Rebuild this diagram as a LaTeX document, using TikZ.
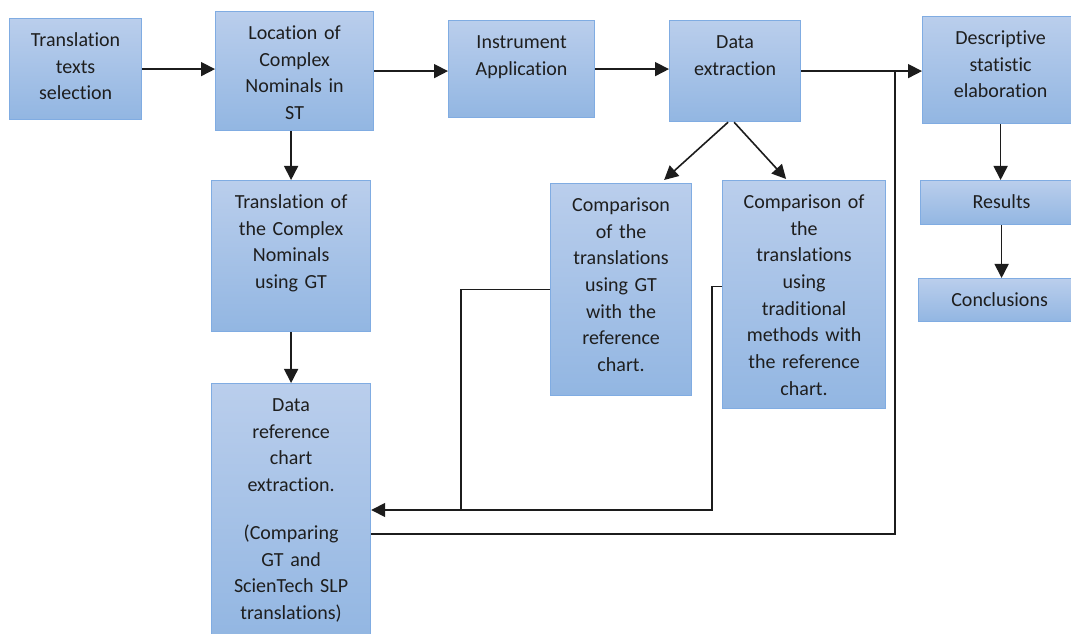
\documentclass[tikz,border=0pt]{standalone}
\usepackage{fontspec}
\setmainfont{Carlito}[Ligatures=NoCommon]
\usepackage{tikz}
\usetikzlibrary{arrows.meta}
\usetikzlibrary{calc}

\definecolor{boxtop}{RGB}{186,206,236}
\definecolor{boxbot}{RGB}{146,182,226}
\definecolor{boxline}{RGB}{128,172,226}
\definecolor{txtcol}{RGB}{30,30,30}
\definecolor{linecol}{RGB}{28,28,28}

\tikzset{
  stepbox/.style={draw=boxline, line width=0.9pt, top color=boxtop, bottom color=boxbot,
    align=center, inner sep=0pt, text=txtcol, font=\fontsize{15}{20}\selectfont,
    text height=21pt, anchor=north west},
  flow/.style={draw=linecol, line width=1.2pt},
  flowarrow/.style={flow, -{Triangle[length=10.5pt,width=10.5pt]}}
}

\begin{document}
\begin{tikzpicture}[x=0.75pt,y=0.75pt,yscale=-1,xscale=1]
\useasboundingbox (0,0) rectangle (1071,634);

%Shape: Rectangle [selection]
\node[stepbox, text width=99pt, text depth=54.75pt] (sel) at (9,18) {Translation\\texts\\selection};
%Shape: Rectangle [location]
\node[stepbox, text width=118.5pt, text depth=68.25pt] (loc) at (215,11) {Location of\\Complex\\Nominals in\\ST};
%Shape: Rectangle [instrument]
\node[stepbox, text width=109.5pt, text depth=51.75pt] (inst) at (448,20) {Instrument\\Application};
%Shape: Rectangle [data extraction]
\node[stepbox, text width=98.25pt, text depth=54.75pt] (dext) at (669,20) {Data\\extraction};
%Shape: Rectangle [descriptive]
\node[stepbox, text width=117pt, text depth=59.25pt] (desc) at (922,16) {Descriptive\\statistic\\elaboration};
%Shape: Rectangle [results]
\node[stepbox, text width=121.5pt, text depth=12pt] (res) at (920,180) {Results};
%Shape: Rectangle [conclusions]
\node[stepbox, text width=121.5pt, text depth=11.25pt] (conc) at (918,278) {Conclusions};
%Shape: Rectangle [translation GT]
\node[stepbox, text width=119.25pt, text depth=92.25pt] (trgt) at (211,180) {Translation of\\the Complex\\Nominals\\using GT};
%Shape: Rectangle [reference chart]
\node[stepbox, text width=119.25pt, text depth=171.75pt] (dref) at (211,383) {Data\\reference\\chart\\extraction.\\[16pt](Comparing\\GT and\\ScienTech SLP\\translations)};
%Shape: Rectangle [comparison GT]
\node[stepbox, text width=105.75pt, text depth=138pt] (cgt) at (550,183) {Comparison\\of the\\translations\\using GT\\with the\\reference\\chart.};
%Shape: Rectangle [comparison traditional]
\node[stepbox, text width=122.25pt, text depth=150pt] (ctr) at (722,180) {Comparison of\\the\\translations\\using\\traditional\\methods with\\the reference\\chart.};

%Straight Lines
\draw[flowarrow] (sel.east) -- (sel.east -| loc.west);
\draw[flowarrow] (loc.east) -- (loc.east -| inst.west);
\draw[flowarrow] (inst.east) -- (inst.east -| dext.west);
\draw[flowarrow] (dext.east) -- (dext.east -| desc.west);
%Straight Lines
\draw[flowarrow] (loc.south -| trgt.north) -- (trgt.north);
\draw[flowarrow] (trgt.south) -- (dref.north);
\draw[flowarrow] ($(dext.south)+(-7,0)$) -- ($(cgt.north)+(43,-3)$);
\draw[flowarrow] ($(dext.south)+(-1,0)$) -- ($(ctr.north)+(-18,-1)$);
\draw[flowarrow] (desc.south) -- (desc.south |- res.north);
\draw[flowarrow] (res.south) -- (res.south |- conc.north);

%Feedback lines
\coordinate (jl) at (461,510);
\coordinate (jm) at (712,510);
\coordinate (jr) at (dext.east -| 895,0);
\draw[flow] (cgt.west) -| (jl);
\draw[flowarrow] ([yshift=-6pt]ctr.west) -| (jm) -- (jm -| dref.east);
\draw[flow] ([yshift=16.5pt]dref.east) -| (jr);

\end{tikzpicture}
\end{document}
